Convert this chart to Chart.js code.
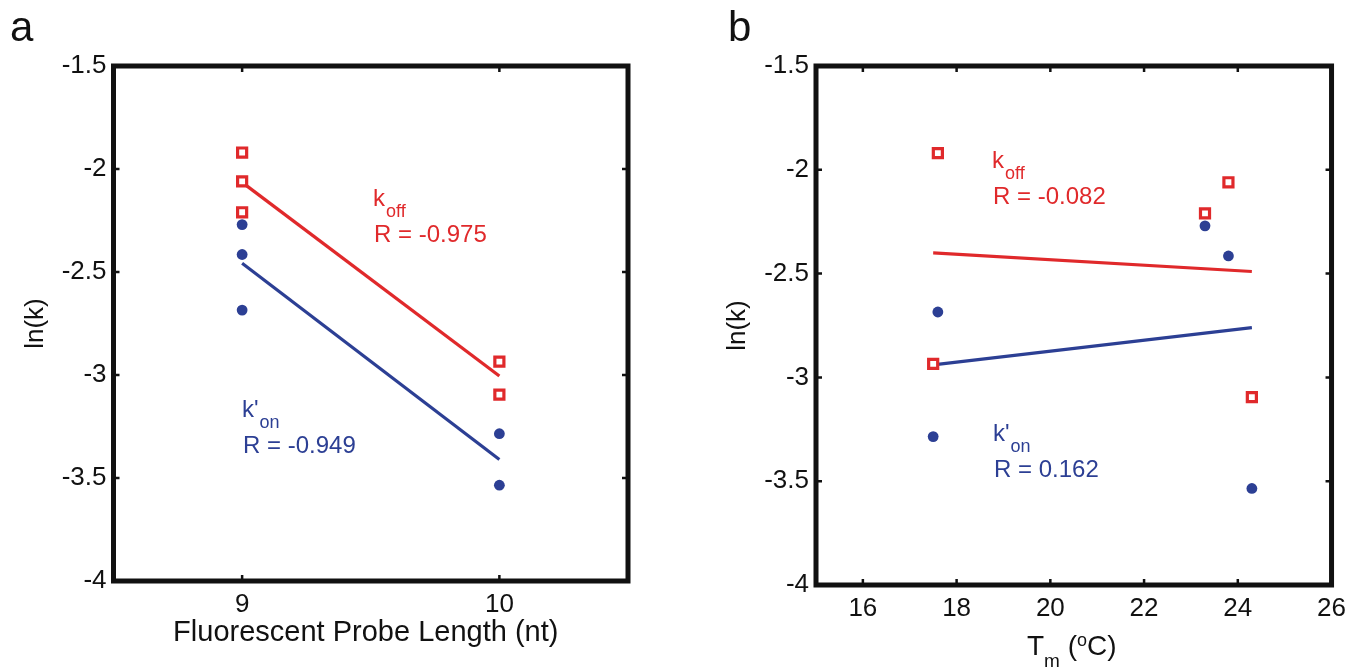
<!DOCTYPE html>
<html>
<head>
<meta charset="utf-8">
<script src="https://cdn.jsdelivr.net/npm/chart.js@4.4.1/dist/chart.umd.min.js"></script>
<style>
  html, body { margin: 0; padding: 0; background: #fff; }
  #wrap { position: relative; width: 1354px; height: 668px; overflow: hidden; }
  .panel { position: absolute; top: 0; width: 677px; height: 668px; }
</style>
</head>
<body>
<div id="wrap">
  <div class="panel" style="left:0"><canvas id="chartA" width="677" height="668"></canvas></div>
  <div class="panel" style="left:677px"><canvas id="chartB" width="677" height="668"></canvas></div>
</div>
<script>
// one entry per probe
const probeLength = [9, 9, 9, 10, 10];
const meltTemp = [17.6, 23.8, 23.3, 17.5, 24.3];
const lnKoff = [-1.92, -2.06, -2.21, -2.935, -3.095];
const lnKon = [-2.685, -2.415, -2.27, -3.285, -3.535];

// fitted lines, end points
const fitLenX = [9, 10];
const fitLenKoff = [-2.065, -3.005];
const fitLenKon = [-2.458, -3.41];
const fitTmX = [17.5, 24.3];
const fitTmKoff = [-2.40, -2.49];
const fitTmKon = [-2.94, -2.76];

const yTicks = [-1.5, -2, -2.5, -3, -3.5, -4];
const xTicksA = [9, 10];
const xTicksB = [16, 18, 20, 22, 24, 26];

const RED = '#e0292b';
const BLUE = '#2c3f94';
const FONT = '"Liberation Sans", Arial, sans-serif';

const pts = (xs, ys) => xs.map((x, i) => ({ x: x, y: ys[i] }));

// draws a run of text pieces [text, size, dy] centred on cx
function drawRuns(ctx, runs, cx, y) {
  let w = 0;
  runs.forEach(r => { ctx.font = r[1] + 'px ' + FONT; w += ctx.measureText(r[0]).width; });
  let x = cx - w / 2;
  ctx.textAlign = 'left';
  runs.forEach(r => {
    ctx.font = r[1] + 'px ' + FONT;
    ctx.fillText(r[0], x, y + r[2]);
    x += ctx.measureText(r[0]).width;
  });
}

const framePlugin = {
  id: 'frame',
  afterDraw(chart, args, opts) {
    const { ctx, chartArea: a, scales: { x, y } } = chart;
    ctx.save();
    ctx.strokeStyle = '#111';
    ctx.lineWidth = 2.5;
    ctx.beginPath();
    x.ticks.forEach(t => {
      const px = x.getPixelForValue(t.value);
      ctx.moveTo(px, a.bottom); ctx.lineTo(px, a.bottom - 6);
      ctx.moveTo(px, a.top); ctx.lineTo(px, a.top + 6);
    });
    y.ticks.forEach(t => {
      const py = y.getPixelForValue(t.value);
      ctx.moveTo(a.left, py); ctx.lineTo(a.left + 6, py);
      ctx.moveTo(a.right, py); ctx.lineTo(a.right - 6, py);
    });
    ctx.stroke();
    ctx.lineWidth = 5;
    ctx.strokeRect(a.left, a.top, a.width, a.height);

    // k labels and R values
    opts.notes.forEach(n => {
      ctx.fillStyle = n.color;
      ctx.textAlign = 'left';
      ctx.textBaseline = 'alphabetic';
      ctx.font = '24px ' + FONT;
      ctx.fillText(n.main, n.x, n.y);
      const w = ctx.measureText(n.main).width;
      ctx.font = '18px ' + FONT;
      ctx.fillText(n.sub, n.x + w + 1, n.y + 11);
      ctx.font = '24px ' + FONT;
      ctx.fillText(n.r, n.x + 1, n.y + 36);
    });

    // axis titles and panel letter
    ctx.fillStyle = '#111';
    ctx.textBaseline = 'alphabetic';
    drawRuns(ctx, opts.xTitle, (a.left + a.right) / 2 + opts.xTitleShift, opts.xTitleY);
    ctx.save();
    ctx.translate(opts.yTitleX, (a.top + a.bottom) / 2);
    ctx.rotate(-Math.PI / 2);
    ctx.textAlign = 'center';
    ctx.font = '26px ' + FONT;
    ctx.fillText('ln(k)', 0, 0);
    ctx.restore();
    ctx.textAlign = 'left';
    ctx.font = '42px ' + FONT;
    ctx.fillText(opts.letter, opts.letterX, 41);
    ctx.restore();
  }
};

function makeChart(id, xs, fitX, fitKoff, fitKon, xMin, xMax, xTicks, geom, frameOpts) {
  return new Chart(document.getElementById(id), {
    type: 'scatter',
    data: {
      datasets: [
        { data: pts(fitX, fitKoff), showLine: true, borderColor: RED, borderWidth: 3.2, pointRadius: 0, order: 3 },
        { data: pts(fitX, fitKon), showLine: true, borderColor: BLUE, borderWidth: 3.2, pointRadius: 0, order: 3 },
        { data: pts(xs, lnKoff), pointStyle: 'rect', pointRadius: 6.4, borderWidth: 3.2,
          borderColor: RED, backgroundColor: '#fff', order: 1 },
        { data: pts(xs, lnKon), pointStyle: 'circle', pointRadius: 5.4, borderWidth: 0,
          borderColor: BLUE, backgroundColor: BLUE, order: 2 }
      ]
    },
    options: {
      responsive: false,
      animation: false,
      layout: { padding: { left: 0, top: 66, right: geom.right, bottom: 0 } },
      plugins: { legend: { display: false }, tooltip: { enabled: false }, frame: frameOpts },
      scales: {
        x: {
          type: 'linear', min: xMin, max: xMax,
          afterBuildTicks: s => { s.ticks = xTicks.map(v => ({ value: v })); },
          afterFit: s => { s.height = geom.xHeight; },
          grid: { display: false, drawTicks: false },
          border: { display: false },
          ticks: { font: { family: FONT, size: 26 }, color: '#111', padding: 8,
                   maxRotation: 0, autoSkip: false, callback: v => String(v) }
        },
        y: {
          type: 'linear', min: -4, max: -1.5,
          afterBuildTicks: s => { s.ticks = yTicks.map(v => ({ value: v })); },
          afterFit: s => { s.width = geom.yWidth; },
          grid: { display: false, drawTicks: false },
          border: { display: false },
          ticks: { font: { family: FONT, size: 26 }, color: '#111', padding: 7,
                   autoSkip: false, callback: v => String(v) }
        }
      }
    },
    plugins: [framePlugin]
  });
}

makeChart('chartA', probeLength, fitLenX, fitLenKoff, fitLenKon, 8.5, 10.5, xTicksA,
  { right: 49, xHeight: 87, yWidth: 113.5 },
  {
    notes: [
      { color: RED, main: 'k', sub: 'off', r: 'R = -0.975', x: 373, y: 206 },
      { color: BLUE, main: "k'", sub: 'on', r: 'R = -0.949', x: 242, y: 417 }
    ],
    xTitle: [['Fluorescent Probe Length (nt)', 29, 0]], xTitleShift: -5, xTitleY: 641,
    yTitleX: 43, letter: 'a', letterX: 10
  });

makeChart('chartB', meltTemp, fitTmX, fitTmKoff, fitTmKon, 15, 26, xTicksB,
  { right: 16, xHeight: 83, yWidth: 139 },
  {
    notes: [
      { color: RED, main: 'k', sub: 'off', r: 'R = -0.082', x: 315, y: 168 },
      { color: BLUE, main: "k'", sub: 'on', r: 'R = 0.162', x: 316, y: 441 }
    ],
    xTitle: [['T', 28, 0], ['m', 19, 12], [' (', 28, 0], ['o', 18, -9], ['C)', 28, 0]],
    xTitleShift: -2, xTitleY: 655,
    yTitleX: 68, letter: 'b', letterX: 51
  });
</script>
</body>
</html>
